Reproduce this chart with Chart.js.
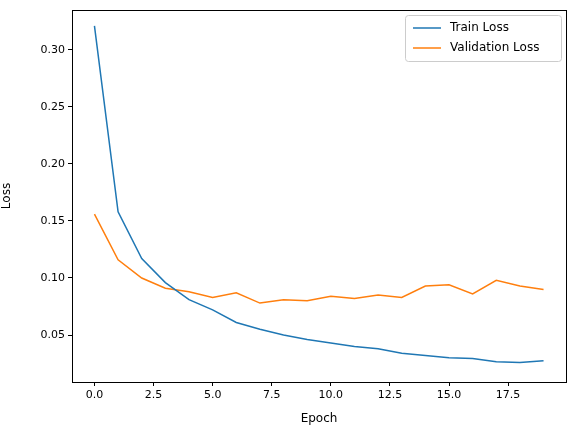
<!DOCTYPE html>
<html><head><meta charset="utf-8">
<script src="https://cdn.jsdelivr.net/npm/chart.js@4/dist/chart.umd.min.js"></script>
<style>body{margin:0;background:#fff}#wrap{width:576px;height:432px}</style>
</head><body><div id="wrap"><canvas id="c"></canvas></div>
<script>
const epochs = [0,1,2,3,4,5,6,7,8,9,10,11,12,13,14,15,16,17,18,19];
const trainLoss = [0.321,0.158,0.117,0.096,0.081,0.072,0.061,0.055,0.050,0.046,0.043,0.040,0.038,0.034,0.032,0.030,0.0295,0.0265,0.0258,0.0275];
const valLoss = [0.156,0.116,0.100,0.091,0.088,0.083,0.087,0.078,0.081,0.080,0.084,0.082,0.085,0.083,0.093,0.094,0.086,0.098,0.093,0.090];
const xTicks = [0,2.5,5,7.5,10,12.5,15,17.5];
const yTicks = [0.05,0.10,0.15,0.20,0.25,0.30];

const legendBox = {
  id: 'legendBox',
  afterDraw(chart) {
    const { ctx, chartArea } = chart;
    // frame around plot area
    ctx.save();
    ctx.strokeStyle = '#000'; ctx.lineWidth = 1;
    ctx.strokeRect(Math.round(chartArea.left) + 0.5, Math.round(chartArea.top) + 0.5,
      Math.round(chartArea.width), Math.round(chartArea.height));
    const items = chart.data.datasets;
    const w = 156, h = 46, x = chartArea.right - w - 5, y = chartArea.top + 5;
    ctx.fillStyle = 'rgba(255,255,255,0.8)';
    ctx.strokeStyle = '#ccc';
    ctx.beginPath(); ctx.roundRect(x + 0.5, y + 0.5, w, h, 3); ctx.fill(); ctx.stroke();
    ctx.font = '12px "DejaVu Sans"';
    ctx.textBaseline = 'middle';
    items.forEach((d, i) => {
      const yy = y + 13 + i * 20;
      ctx.strokeStyle = d.borderColor; ctx.lineWidth = 1.5;
      ctx.beginPath(); ctx.moveTo(x + 8, yy); ctx.lineTo(x + 36, yy); ctx.stroke();
      ctx.fillStyle = '#000';
      ctx.fillText(d.label, x + 45, yy);
    });
    ctx.restore();
  }
};

const tickFont = { family: 'DejaVu Sans', size: 11 };
new Chart(document.getElementById('c'), {
  type: 'line',
  data: {
    datasets: [
      { label: 'Train Loss', data: epochs.map((e, i) => ({ x: e, y: trainLoss[i] })), borderColor: '#1f77b4', borderWidth: 1.5, pointRadius: 0, tension: 0 },
      { label: 'Validation Loss', data: epochs.map((e, i) => ({ x: e, y: valLoss[i] })), borderColor: '#ff7f0e', borderWidth: 1.5, pointRadius: 0, tension: 0 }
    ]
  },
  options: {
    responsive: true, maintainAspectRatio: false, animation: false,
    layout: { padding: { top: 10, right: 10, left: 0, bottom: 0 } },
    plugins: { legend: { display: false }, tooltip: { enabled: false } },
    scales: {
      x: {
        type: 'linear', min: -0.95, max: 19.95,
        afterBuildTicks: s => { s.ticks = xTicks.map(v => ({ value: v })); },
        afterFit: s => { s.height = 50; },
        ticks: { color: '#000', font: tickFont, callback: v => v.toFixed(1), maxRotation: 0 },
        grid: { drawOnChartArea: false, tickLength: 4, color: '#000' },
        border: { color: '#000' },
        title: { display: true, text: 'Epoch', color: '#000', font: { family: 'DejaVu Sans', size: 12 }, padding: { top: 0, bottom: 6 } }
      },
      y: {
        min: 0.0088, max: 0.335,
        afterBuildTicks: s => { s.ticks = yTicks.map(v => ({ value: v })); },
        afterFit: s => { s.width = 72; },
        ticks: { color: '#000', font: tickFont, callback: v => v.toFixed(2) },
        grid: { drawOnChartArea: false, tickLength: 4, color: '#000' },
        border: { color: '#000' },
        title: { display: true, text: 'Loss', color: '#000', font: { family: 'DejaVu Sans', size: 12 }, padding: { top: 0, bottom: 0 } }
      }
    }
  },
  plugins: [legendBox]
});
</script></body></html>
